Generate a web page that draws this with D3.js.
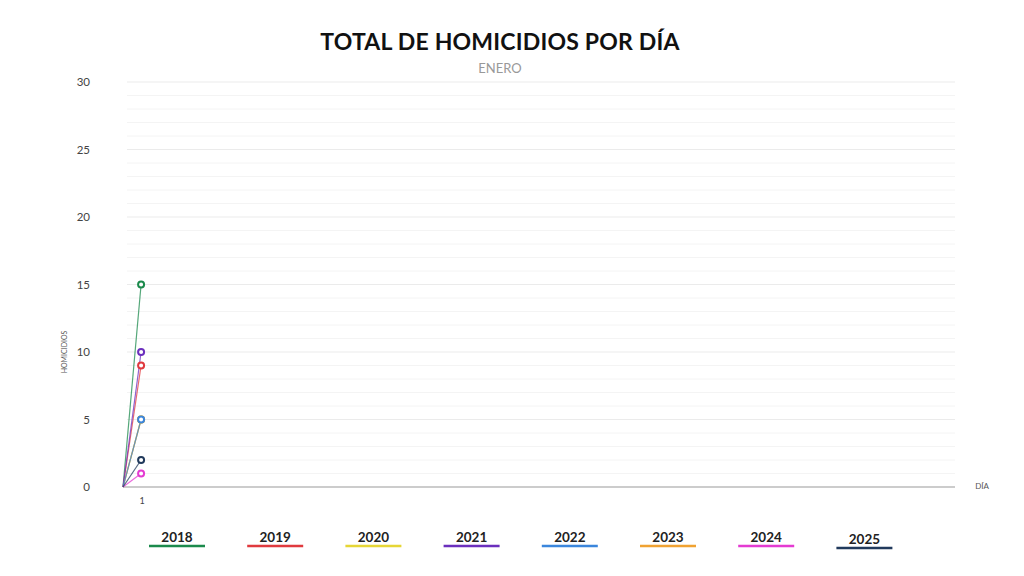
<!DOCTYPE html>
<html>
<head>
<meta charset="utf-8">
<script src="https://cdn.jsdelivr.net/npm/d3@7"></script>
<style>
  body { margin: 0; background: #fff; font-family: "Lato", "Open Sans", sans-serif; }
  .grid line { stroke: #f4f4f4; }
  .grid line.major { stroke: #ebebeb; }
</style>
</head>
<body>
<svg id="chart" width="1024" height="576"></svg>
<script>
// days (0 = origin where every series starts)
var days = [0, 1];
var years = ["2018", "2019", "2020", "2021", "2022", "2023", "2024", "2025"];
var colors = ["#1b8a4c", "#e03a3e", "#e6d636", "#6b2fbd", "#3b86dc", "#f0a232", "#e43bd2", "#213a5c"];
var values2018 = [0, 15];
var values2019 = [0, 9];
var values2020 = [0, 5];
var values2021 = [0, 10];
var values2022 = [0, 5];
var values2023 = [0, 5];
var values2024 = [0, 1];
var values2025 = [0, 2];
var yTicks = [0, 5, 10, 15, 20, 25, 30];
var xTicks = [1];

var series = [values2018, values2019, values2020, values2021, values2022, values2023, values2024, values2025];
var drawOrder = [0, 1, 2, 5, 3, 4, 6, 7];

var svg = d3.select("#chart");
var margin = {left: 123, right: 955, top: 82, bottom: 487};

var x = d3.scaleLinear().domain([0, 46]).range([margin.left, margin.right]);
var y = d3.scaleLinear().domain([0, 30]).range([margin.bottom, margin.top]);

// title
svg.append("text")
    .attr("x", 500).attr("y", 50)
    .attr("text-anchor", "middle")
    .style("font-family", "Lato, sans-serif")
    .style("font-weight", "bold")
    .style("font-size", "23px")
    .style("letter-spacing", "0.2px")
    .style("fill", "#111")
    .text("TOTAL DE HOMICIDIOS POR DÍA");

svg.append("text")
    .attr("x", 500).attr("y", 73)
    .attr("text-anchor", "middle")
    .style("font-size", "13px")
    .style("fill", "#999")
    .text("ENERO");

// grid
var grid = svg.append("g").attr("class", "grid");
grid.selectAll("line")
    .data(d3.range(1, 31))
  .enter().append("line")
    .attr("class", function (d) { return d % 5 === 0 ? "major" : null; })
    .attr("x1", 127).attr("x2", margin.right)
    .attr("y1", function (d) { return y(d); })
    .attr("y2", function (d) { return y(d); });

// y axis labels
svg.append("g").selectAll("text")
    .data(yTicks)
  .enter().append("text")
    .attr("x", 90)
    .attr("y", function (d) { return y(d) + 4; })
    .attr("text-anchor", "end")
    .style("font-size", "11.5px")
    .style("fill", "#444")
    .text(function (d) { return d; });

svg.append("text")
    .attr("transform", "translate(67," + y(10) + ") rotate(-90)")
    .attr("text-anchor", "middle")
    .style("font-size", "7px")
    .style("fill", "#555")
    .text("HOMICIDIOS");

// x axis
svg.append("line")
    .attr("x1", margin.left).attr("x2", margin.right)
    .attr("y1", y(0)).attr("y2", y(0))
    .style("stroke", "#999").style("stroke-width", 1);

svg.append("g").selectAll("text")
    .data(xTicks)
  .enter().append("text")
    .attr("x", function (d) { return x(d) + 1; })
    .attr("y", y(0) + 17)
    .attr("text-anchor", "middle")
    .style("font-size", "9px")
    .style("fill", "#444")
    .text(function (d) { return d; });

svg.append("text")
    .attr("x", 982).attr("y", y(0) + 2)
    .attr("text-anchor", "middle")
    .style("font-size", "8px")
    .style("fill", "#555")
    .text("DÍA");

// lines
var line = d3.line()
    .x(function (d, i) { return x(days[i]); })
    .y(function (d) { return y(d); });

svg.append("g").selectAll("path")
    .data(drawOrder)
  .enter().append("path")
    .attr("d", function (k) { return line(series[k]); })
    .style("fill", "none")
    .style("stroke", function (k) { return colors[k]; })
    .style("stroke-width", 1.2)
    .style("stroke-opacity", 0.75);

// points (skip the origin)
drawOrder.forEach(function (k) {
    svg.append("g").selectAll("circle")
        .data(series[k].slice(1))
      .enter().append("circle")
        .attr("cx", function (d, i) { return x(days[i + 1]); })
        .attr("cy", function (d) { return y(d); })
        .attr("r", 3)
        .style("fill", "#fff")
        .style("stroke", colors[k])
        .style("stroke-width", 2);
});

// legend
var legend = svg.append("g").selectAll("g")
    .data(years)
  .enter().append("g")
    .attr("transform", function (d, i) {
        return "translate(" + (177 + i * 98.2) + "," + (i === 7 ? 2 : 0) + ")";
    });

legend.append("text")
    .attr("y", 542)
    .attr("text-anchor", "middle")
    .style("font-weight", "bold")
    .style("font-size", "13.5px")
    .style("fill", "#222")
    .text(function (d) { return d; });

legend.append("line")
    .attr("x1", -28).attr("x2", 28)
    .attr("y1", 546).attr("y2", 546)
    .style("stroke", function (d, i) { return colors[i]; })
    .style("stroke-width", 2.5);
</script>
</body>
</html>
